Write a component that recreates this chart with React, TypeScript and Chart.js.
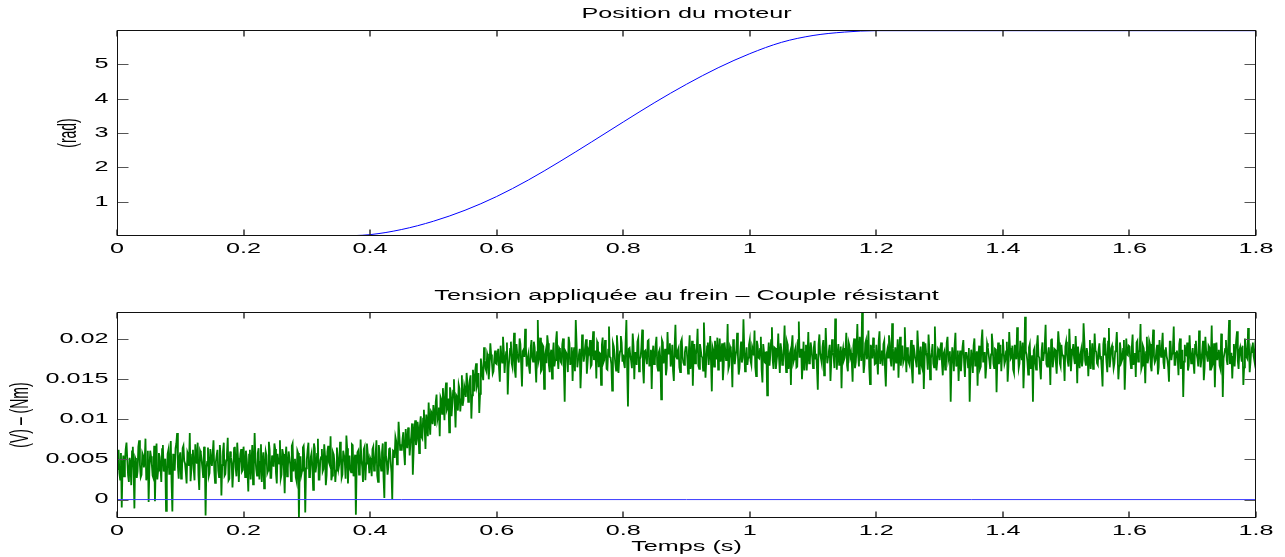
import React, { useEffect, useRef } from "react";
import { Chart, registerables } from "chart.js";

Chart.register(...registerables);

// ---------- Data ----------
// Top subplot: motor position (rad) vs time (s)
const POSITION_TIME = [
  0, 0.05, 0.1, 0.15, 0.2, 0.25, 0.3, 0.35, 0.4, 0.45, 0.5, 0.55, 0.6, 0.65, 0.7, 0.75, 0.8, 0.85, 0.9,
  0.95, 1.0, 1.05, 1.1, 1.15, 1.2, 1.25, 1.3, 1.35, 1.4, 1.45, 1.5, 1.55, 1.6, 1.65, 1.7, 1.75, 1.8,
];
const POSITION_RAD = [
  0, 0, 0, 0, 0, 0, 0, 0.003, 0.04, 0.19, 0.43, 0.75, 1.15, 1.63, 2.17, 2.74, 3.32, 3.89, 4.42,
  4.9, 5.31, 5.64, 5.84, 5.94, 5.98, 5.98, 5.98, 5.98, 5.98, 5.98, 5.98, 5.98, 5.98, 5.98, 5.98, 5.98, 5.98,
];

// Bottom subplot: brake voltage / resistive torque, values in units of 1e-4 (V - Nm).
// Samples at t = k * SAMPLE_PERIOD (even) and t = (k + 0.5) * SAMPLE_PERIOD (odd).
const SAMPLE_PERIOD = 0.0025;
const BRAKE_SIGNAL_E4 = [
  38, 62, 25, -10, 55, 47, 71, 30, 52, 18, 66, -11, 49, 35, 74, 28, 58, 40, 76, 33,
  -3, 61, 44, 27, -2, 70, 36, 53, 22, 68, 41, -14, 57, 32, 73, -15, 48, 64, 83, 26,
  59, 31, 67, 45, 20, 56, 83, 37, 62, 24, 50, 71, 12, 58, 39, 66, -20, 47, 29, 63,
  42, 74, 21, 55, 36, 68, 5, 60, 30, 49, 77, 26, 53, 15, 64, 40, 71, 22, 57, 35,
  66, 28, 51, 10, 62, 44, 19, 83, 38, 58, 25, 69, 47, 14, 60, 33, 72, 27, 55, 41,
  63, 20, 49, 74, 31, 57, 8, 66, 39, 52, 23, 70, 45, 28, 61, -24, 54, 36, 67, -16,
  50, 71, 29, 58, 12, 64, 42, 76, 25, 53, 35, 69, 18, 60, 46, 79, 30, 56, 22, 65,
  38, 72, 27, 61, 47, 80, 20, 55, 34, 68, 44, -19, 59, 31, 75, 41, 63, 24, 70, 48,
  52, 29, 66, 41, 74, 22, 58, 36, 70, 2, 55, 31, 63, 47, 0, 60, 78, 44, 97, 62,
  61, 84, 43, 72, 90, 55, 79, 31, 86, 68, 97, 58, 104, 76, 112, 63, 95, 121, 81, 108,
  118, 92, 131, 104, 79, 125, 139, 99, 146, 115, 84, 133, 120, 150, 90, 128, 143, 110, 155, 124,
  137, 158, 122, 149, 101, 162, 135, 170, 145, 108, 176, 156, 190, 163, 182, 150, 195, 171, 160, 186,
  169, 188, 147, 179, 203, 158, 184, 131, 176, 197, 165, 208, 152, 182, 171, 194, 141, 187, 213, 166,
  180, 157, 199, 172, 190, 146, 224, 178, 160, 193, 138, 185, 205, 168, 181, 151, 196, 174, 210, 163,
  187, 170, 201, 122, 183, 159, 195, 176, 148, 190, 224, 165, 181, 139, 206, 172, 192, 157, 186, 199,
  168, 210, 179, 151, 194, 183, 143, 202, 174, 188, 162, 216, 177, 136, 191, 170, 205, 158, 185, 196,
  181, 164, 224, 116, 189, 173, 207, 150, 184, 197, 160, 178, 212, 145, 186, 169, 199, 175, 138, 192,
  173, 203, 161, 187, 125, 196, 179, 155, 209, 182, 166, 193, 148, 218, 176, 189, 159, 200, 171, 184,
  190, 157, 205, 172, 142, 194, 181, 213, 163, 187, 177, 221, 152, 191, 168, 204, 135, 186, 198, 175,
  162, 201, 183, 149, 196, 174, 219, 167, 188, 140, 193, 179, 208, 156, 185, 171, 225, 160, 190, 177,
  199, 168, 187, 211, 154, 192, 176, 203, 146, 184, 170, 130, 196, 181, 215, 163, 189, 174, 207, 158,
  186, 171, 217, 159, 193, 180, 143, 205, 175, 190, 166, 222, 178, 150, 197, 184, 161, 209, 172, 188,
  164, 198, 182, 137, 206, 176, 191, 155, 214, 170, 185, 148, 200, 179, 226, 162, 194, 173, 139, 189,
  177, 208, 160, 192, 183, 147, 201, 171, 219, 166, 188, 234, 158, 195, 175, 211, 144, 186, 202, 169,
  193, 156, 210, 180, 167, 198, 141, 187, 205, 174, 220, 161, 190, 178, 152, 203, 184, 171, 215, 159,
  182, 168, 199, 145, 186, 172, 211, 157, 191, 164, 138, 195, 179, 206, 150, 183, 170, 216, 161, 188,
  174, 196, 155, 185, 167, 203, 179, 122, 190, 160, 208, 172, 148, 186, 177, 199, 153, 183, 165, 122,
  187, 158, 201, 173, 142, 192, 166, 212, 176, 151, 195, 181, 163, 207, 170, 188, 134, 196, 178, 160,
  200, 169, 185, 147, 209, 176, 192, 158, 183, 215, 164, 198, 174, 139, 228, 181, 156, 194, 171, 122,
  189, 162, 205, 177, 150, 196, 183, 218, 166, 190, 143, 201, 175, 187, 157, 210, 170, 193, 180, 148,
  197, 172, 213, 160, 185, 176, 204, 145, 191, 181, 166, 220, 173, 189, 154, 199, 178, 163, 207, 184,
  168, 195, 179, 141, 202, 186, 159, 214, 175, 192, 164, 185, 209, 150, 196, 172, 188, 137, 201, 180,
  191, 164, 206, 177, 153, 198, 184, 219, 167, 189, 145, 203, 176, 194, 160, 212, 171, 186, 156, 199,
  178, 208, 163, 190, 174, 147, 197, 182, 216, 168, 186, 155, 201, 173, 128, 193, 180, 161, 205, 170,
  189, 157, 198, 176, 211, 165, 185, 149, 203, 179, 192, 162, 217, 171, 140, 196, 183, 167, 207, 128,
  182, 199, 168, 224, 176, 151, 194, 185, 210, 163, 190, 172, 143, 201, 178, 214, 159, 188, 196, 173,
  186,
];
const BRAKE_SIGNAL_ODD_E4 = [
  47, 33, 58, 41, 29, 63, 50, 22, 45, 60, 37, 52, 27, 66, 43, 31, 55, 48, 24, 61,
  39, 54, 30, 67, 46, 25, 58, 40, 63, 35, 51, 28, 62, 44, 21, 57, 36, 70, 41, 53,
  26, 64, 48, 34, 59, 42, 23, 56, 38, 69, 45, 30, 61, 49, 27, 53, 40, 65, 33, 50,
  58, 36, 47, 62, 28, 54, 43, 71, 32, 57, 24, 60, 46, 35, 66, 29, 52, 44, 63, 37,
  49, 61, 34, 56, 25, 68, 40, 52, 30, 64, 47, 22, 59, 41, 55, 36, 62, 27, 48, 70,
  33, 57, 45, 26, 63, 38, 54, 29, 60, 44, 67, 35, 51, 23, 58, 42, 31, 65, 47, 39,
  62, 28, 53, 41, 70, 34, 57, 25, 49, 63, 38, 55, 30, 67, 43, 24, 59, 46, 36, 52,
  44, 60, 31, 55, 26, 64, 48, 37, 69, 29, 56, 42, 61, 35, 50, 22, 66, 45, 58, 33,
  49, 63, 36, 57, 30, 68, 45, 59, 27, 72, 48, 40, 65, 34, 61, 52, 73, 56, 80, 69,
  76, 58, 88, 64, 81, 70, 95, 60, 99, 74, 87, 92, 78, 101, 88, 106, 79, 98, 110, 94,
  106, 122, 99, 115, 128, 107, 120, 133, 112, 126, 140, 104, 136, 119, 130, 111, 138, 125, 117, 142,
  128, 146, 136, 155, 130, 150, 162, 141, 158, 132, 166, 149, 174, 160, 178, 168, 181, 157, 176, 170,
  180, 163, 192, 171, 186, 175, 196, 164, 188, 170, 183, 161, 194, 176, 201, 168, 185, 178, 190, 173,
  165, 189, 177, 197, 169, 184, 173, 202, 162, 191, 179, 170, 195, 159, 187, 181, 166, 198, 176, 189,
  172, 194, 163, 185, 178, 203, 168, 190, 181, 160, 196, 175, 188, 167, 192, 180, 200, 171, 183, 166,
  190, 174, 186, 197, 165, 182, 193, 171, 199, 163, 187, 178, 169, 195, 182, 161, 189, 176, 204, 172,
  170, 196, 162, 188, 179, 164, 192, 183, 168, 201, 175, 190, 163, 185, 177, 198, 166, 187, 181, 169,
  193, 167, 184, 175, 199, 170, 188, 164, 182, 195, 173, 160, 191, 178, 186, 165, 197, 179, 168, 190,
  176, 185, 163, 198, 181, 170, 189, 167, 194, 179, 161, 188, 174, 196, 183, 171, 190, 166, 181, 202,
  184, 172, 195, 166, 187, 178, 163, 191, 175, 200, 169, 186, 180, 164, 197, 177, 189, 173, 168, 193,
  173, 191, 180, 165, 198, 177, 188, 162, 194, 171, 185, 179, 167, 199, 174, 190, 163, 182, 176, 195,
  168, 189, 176, 197, 163, 184, 192, 171, 186, 165, 199, 178, 188, 172, 161, 193, 181, 170, 196, 177,
  190, 175, 163, 194, 182, 170, 199, 166, 188, 178, 193, 172, 184, 164, 197, 180, 168, 191, 183, 174,
  185, 167, 196, 178, 171, 192, 164, 189, 180, 203, 173, 186, 169, 199, 182, 165, 193, 176, 188, 170,
  174, 198, 169, 186, 194, 163, 181, 177, 196, 166, 188, 179, 171, 200, 184, 167, 192, 175, 183, 190,
  171, 184, 160, 193, 177, 165, 190, 180, 168, 197, 174, 183, 162, 188, 176, 194, 165, 181, 172, 186,
  189, 170, 182, 162, 196, 174, 185, 168, 179, 192, 166, 186, 175, 160, 191, 170, 183, 177, 189, 164,
  176, 192, 167, 185, 179, 163, 198, 172, 184, 166, 190, 173, 181, 195, 164, 187, 176, 169, 193, 181,
  184, 173, 197, 166, 189, 178, 162, 193, 175, 187, 170, 182, 196, 168, 185, 172, 190, 163, 180, 186,
  170, 193, 179, 164, 186, 173, 195, 169, 182, 176, 199, 165, 188, 171, 183, 196, 166, 180, 174, 191,
  181, 166, 188, 177, 194, 169, 183, 191, 164, 187, 175, 198, 167, 182, 178, 163, 195, 172, 186, 170,
  187, 176, 162, 194, 180, 171, 197, 165, 189, 178, 170, 193, 183, 167, 186, 175, 199, 168, 181, 192,
  175, 190, 168, 183, 196, 172, 186, 163, 192, 177, 184, 170, 198, 166, 188, 179, 174, 193, 165, 185,
  192, 171, 186, 179, 165, 197, 174, 189, 168, 183, 176, 194, 163, 187, 172, 181, 196, 167, 184, 178,
  170, 193, 181, 166, 188, 175, 198, 164, 185, 172, 190, 177, 168, 195, 182, 174, 187, 163, 192, 176,
  188, 174, 195, 169, 183, 178, 166, 199, 173, 186, 180, 192, 165, 189, 176, 197, 171, 184, 179, 191,
];
const ZERO_LINE_TIME = [0, 1.8];
const ZERO_LINE_VALUE = [0, 0];

// Axis ticks
const X_TICKS = [0, 0.2, 0.4, 0.6, 0.8, 1, 1.2, 1.4, 1.6, 1.8];
const X_TICK_LABELS = ["0", "0.2", "0.4", "0.6", "0.8", "1", "1.2", "1.4", "1.6", "1.8"];
const POS_Y_TICKS = [1, 2, 3, 4, 5];
const POS_Y_TICK_LABELS = ["1", "2", "3", "4", "5"];
const BRAKE_Y_TICKS = [0, 0.005, 0.01, 0.015, 0.02];
const BRAKE_Y_TICK_LABELS = ["0", "0.005", "0.01", "0.015", "0.02"];

// Texts
const TOP_TITLE = "Position du moteur";
const TOP_Y_LABEL = "(rad)";
const BOTTOM_TITLE = "Tension appliquée au frein – Couple résistant";
const BOTTOM_Y_LABEL = "(V) – (Nm)";
const X_LABEL = "Temps (s)";

// ---------- Styling ----------
const W = 1285;
const H = 557;
const FONT = "14px 'Liberation Sans', Arial, Helvetica, sans-serif";
const STRETCH = 1.8;

function drawStretched(ctx: CanvasRenderingContext2D, text: string, x: number, y: number, align: CanvasTextAlign) {
  ctx.save();
  ctx.translate(x, y);
  ctx.scale(STRETCH, 1);
  ctx.font = FONT;
  ctx.fillStyle = "#000";
  ctx.textAlign = align;
  ctx.textBaseline = "middle";
  ctx.fillText(text, 0, 0);
  ctx.restore();
}

function drawVertical(ctx: CanvasRenderingContext2D, text: string, x: number, y: number) {
  ctx.save();
  ctx.translate(x, y);
  ctx.rotate(-Math.PI / 2);
  ctx.scale(1, STRETCH);
  ctx.font = FONT;
  ctx.fillStyle = "#000";
  ctx.textAlign = "center";
  ctx.textBaseline = "middle";
  ctx.fillText(text, 0, 0);
  ctx.restore();
}

type AxesOpts = {
  yTicks: number[];
  yLabels: string[];
  title: string;
  yTitle: string;
  yTitleOffset: number;
  xTitle?: string;
};

function makeAxesPlugin(o: AxesOpts) {
  return {
    id: "matlabAxes",
    afterDatasetsDraw(chart: any) {
      const ctx: CanvasRenderingContext2D = chart.ctx;
      const a = chart.chartArea;
      const xs = chart.scales.x;
      const ys = chart.scales.y;
      const L = Math.round(a.left) + 0.5;
      const R = Math.round(a.right) - 0.5;
      const T = Math.round(a.top) + 0.5;
      const B = Math.round(a.bottom) - 0.5;
      ctx.save();
      ctx.strokeStyle = "#333";
      ctx.lineWidth = 1.5;
      ctx.beginPath();
      X_TICKS.forEach((v) => {
        const px = Math.round(xs.getPixelForValue(v));
        ctx.moveTo(px, B);
        ctx.lineTo(px, B - 6);
        ctx.moveTo(px, T);
        ctx.lineTo(px, T + 6);
      });
      ctx.stroke();
      ctx.strokeStyle = "#555";
      ctx.lineWidth = 1;
      ctx.beginPath();
      o.yTicks.forEach((v) => {
        const py = Math.round(ys.getPixelForValue(v)) + 0.5;
        ctx.moveTo(L, py);
        ctx.lineTo(L + 11, py);
        ctx.moveTo(R, py);
        ctx.lineTo(R - 11, py);
      });
      ctx.stroke();
      ctx.strokeStyle = "#111";
      ctx.lineWidth = 1;
      ctx.strokeRect(L, T, R - L, B - T);
      ctx.restore();

      X_TICKS.forEach((v, i) => {
        drawStretched(ctx, X_TICK_LABELS[i], xs.getPixelForValue(v), a.bottom + 13, "center");
      });
      o.yTicks.forEach((v, i) => {
        drawStretched(ctx, o.yLabels[i], a.left - 8.5, ys.getPixelForValue(v), "right");
      });
      drawStretched(ctx, o.title, (a.left + a.right) / 2, a.top - 16, "center");
      drawVertical(ctx, o.yTitle, a.left - o.yTitleOffset, (a.top + a.bottom) / 2);
      if (o.xTitle) {
        drawStretched(ctx, o.xTitle, (a.left + a.right) / 2, a.bottom + 29, "center");
      }
    },
  };
}

function buildBrakePoints() {
  const pts: { x: number; y: number }[] = [];
  BRAKE_SIGNAL_E4.forEach((v, i) => {
    pts.push({ x: i * SAMPLE_PERIOD, y: v / 10000 });
    if (i < BRAKE_SIGNAL_ODD_E4.length) {
      pts.push({ x: (i + 0.5) * SAMPLE_PERIOD, y: BRAKE_SIGNAL_ODD_E4[i] / 10000 });
    }
  });
  return pts;
}

export default function App() {
  const topRef = useRef<HTMLCanvasElement | null>(null);
  const botRef = useRef<HTMLCanvasElement | null>(null);

  useEffect(() => {
    if (!topRef.current || !botRef.current) return;

    const common = (padding: any, yMin: number, yMax: number) => ({
      animation: false as const,
      responsive: false,
      maintainAspectRatio: false,
      devicePixelRatio: 1,
      events: [] as any[],
      layout: { padding },
      plugins: {
        legend: { display: false },
        tooltip: { enabled: false },
        title: { display: false },
      },
      scales: {
        x: { type: "linear" as const, min: 0, max: 1.8, display: false },
        y: { type: "linear" as const, min: yMin, max: yMax, display: false },
      },
    });

    const topChart = new Chart(topRef.current, {
      type: "line",
      data: {
        datasets: [
          {
            data: POSITION_TIME.map((t, i) => ({ x: t, y: POSITION_RAD[i] })),
            borderColor: "#0000ff",
            borderWidth: 1,
            pointRadius: 0,
            cubicInterpolationMode: "monotone",
            fill: false,
          },
        ],
      },
      options: common({ left: 117, right: W - 1256, top: 30, bottom: H - 236 }, 0, 6) as any,
      plugins: [
        makeAxesPlugin({
          yTicks: POS_Y_TICKS,
          yLabels: POS_Y_TICK_LABELS,
          title: TOP_TITLE,
          yTitle: TOP_Y_LABEL,
          yTitleOffset: 48,
        }),
      ],
    });

    const botChart = new Chart(botRef.current, {
      type: "line",
      data: {
        datasets: [
          {
            data: ZERO_LINE_TIME.map((t, i) => ({ x: t, y: ZERO_LINE_VALUE[i] })),
            borderColor: "#3c3cff",
            borderWidth: 1,
            pointRadius: 0,
            fill: false,
          },
          {
            data: buildBrakePoints(),
            borderColor: "#008000",
            borderWidth: 1.8,
            pointRadius: 0,
            tension: 0,
            fill: false,
          },
        ],
      },
      options: common({ left: 117, right: W - 1256, top: 312, bottom: H - 518 }, -0.0023, 0.0234) as any,
      plugins: [
        makeAxesPlugin({
          yTicks: BRAKE_Y_TICKS,
          yLabels: BRAKE_Y_TICK_LABELS,
          title: BOTTOM_TITLE,
          yTitle: BOTTOM_Y_LABEL,
          yTitleOffset: 96,
          xTitle: X_LABEL,
        }),
      ],
    });

    return () => {
      topChart.destroy();
      botChart.destroy();
    };
  }, []);

  const canvasStyle: React.CSSProperties = {
    position: "absolute",
    left: 0,
    top: 0,
    width: W,
    height: H,
  };

  return (
    <div style={{ position: "fixed", left: 0, top: 0, width: W, height: H, background: "#fff" }}>
      <canvas ref={topRef} width={W} height={H} style={canvasStyle} />
      <canvas ref={botRef} width={W} height={H} style={canvasStyle} />
    </div>
  );
}
